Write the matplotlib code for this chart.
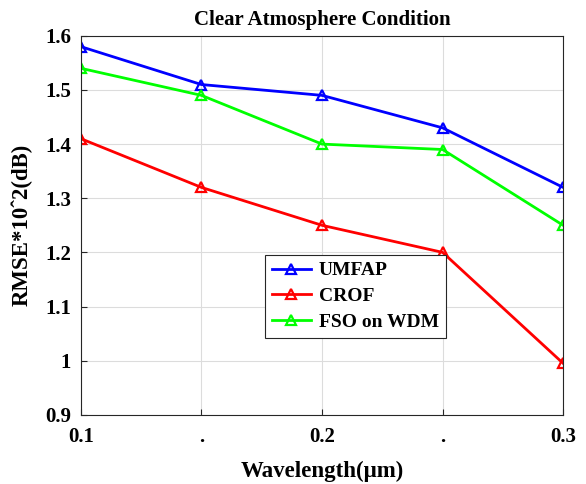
import matplotlib
matplotlib.use("Agg")
import matplotlib.pyplot as plt

wavelength = [0.1, 0.15, 0.2, 0.25, 0.3]
xtick_labels = ["0.1", ".", "0.2", ".", "0.3"]
umfap = [1.58, 1.51, 1.49, 1.43, 1.32]
crof = [1.41, 1.32, 1.25, 1.20, 0.995]
fso_wdm = [1.54, 1.49, 1.40, 1.39, 1.25]

plt.rcParams['font.family'] = ['Liberation Serif', 'DejaVu Serif']
plt.rcParams['font.weight'] = 'bold'

fig = plt.figure(figsize=(5.86, 4.84), dpi=100)
ax = fig.add_axes([0.138, 0.143, 0.823, 0.783])

mk = dict(marker='^', markersize=7, markerfacecolor='none', markeredgewidth=1.6, linewidth=2)
ax.plot(wavelength, umfap, color='#0000ff', label='UMFAP', **mk)
ax.plot(wavelength, crof, color='#ff0000', label='CROF', **mk)
ax.plot(wavelength, fso_wdm, color='#00ff00', label='FSO on WDM', **mk)

ax.set_xlim(0.1, 0.3)
ax.set_ylim(0.9, 1.6)
ax.set_xticks(wavelength)
ax.set_xticklabels(xtick_labels)
ax.set_yticks([0.9, 1.0, 1.1, 1.2, 1.3, 1.4, 1.5, 1.6])
ax.set_yticklabels(["0.9", "1", "1.1", "1.2", "1.3", "1.4", "1.5", "1.6"])
ax.tick_params(labelsize=15, direction='in', length=4, width=0.8, color='#262626')
ax.tick_params(axis='x', pad=9)
ax.tick_params(axis='y', pad=7)
for lab in ax.get_xticklabels() + ax.get_yticklabels():
    lab.set_fontweight('bold')
ax.grid(True, color='#dcdcdc', linewidth=0.8)
for s in ax.spines.values():
    s.set_color('#262626')
    s.set_linewidth(0.8)

ax.set_xlabel('Wavelength(μm)', fontsize=16.5, fontweight='bold', labelpad=10)
ax.set_ylabel('RMSE*10ˆ2(dB)', fontsize=16.5, fontweight='bold', labelpad=9)
ax.set_title('Clear Atmosphere Condition', fontsize=15, fontweight='bold', pad=8)

leg = ax.legend(loc='lower left', bbox_to_anchor=(0.382, 0.203), borderaxespad=0,
                fancybox=False, framealpha=1, edgecolor='#262626',
                handlelength=2.0, borderpad=0.35, labelspacing=0.42, handletextpad=0.4,
                prop={'weight': 'bold', 'size': 14})
leg.get_frame().set_linewidth(0.8)

fig.savefig('out.png', dpi=100)
